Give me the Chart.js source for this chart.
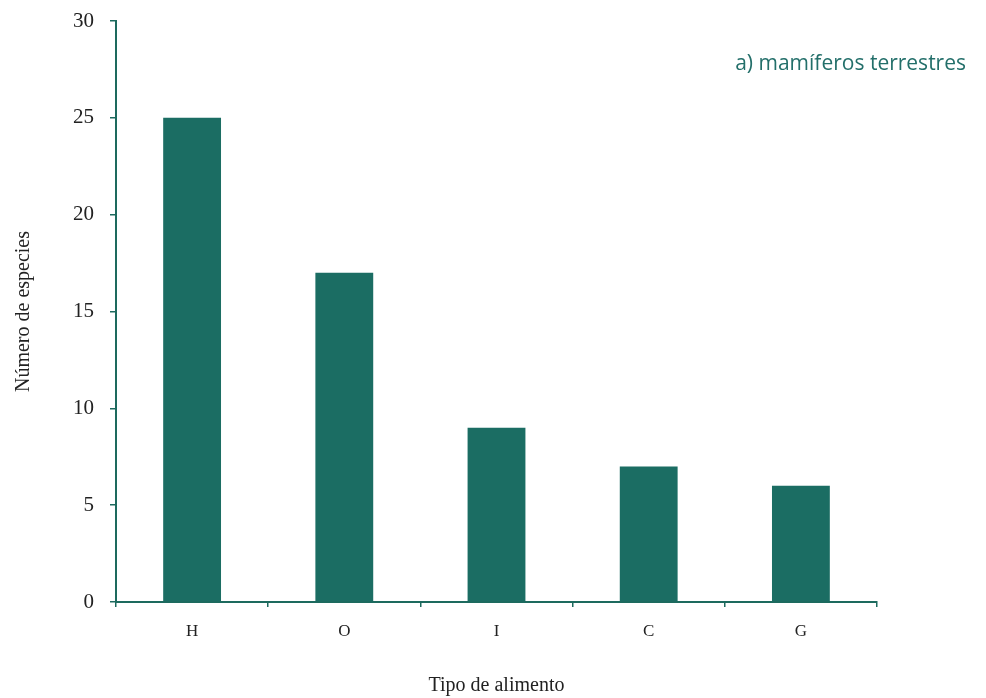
<!DOCTYPE html>
<html>
<head>
<meta charset="utf-8">
<script src="https://cdn.jsdelivr.net/npm/chart.js@4.4.1/dist/chart.umd.min.js"></script>
<style>
  html, body { margin: 0; padding: 0; background: #fff; }
  #wrap { width: 986px; height: 698px; position: relative; }
</style>
</head>
<body>
<div id="wrap"><canvas id="chart"></canvas></div>
<script>
// Bar chart: número de especies por tipo de alimento (mamíferos terrestres)
const categories = ['H', 'O', 'I', 'C', 'G'];
const especies = [25, 17, 9, 7, 6];
const yTicks = [0, 5, 10, 15, 20, 25, 30];

const GREEN = '#1b6d63';
const AXIS = '#1d6a5e';

// panel label in the top right corner
const panelLabel = {
  id: 'panelLabel',
  afterDraw(chart) {
    const c = chart.ctx;
    c.save();
    c.font = '21px "Open Sans", "Noto Sans", sans-serif';
    c.fillStyle = '#236f6a';
    c.textAlign = 'right';
    c.textBaseline = 'middle';
    c.fillText('a) mamíferos terrestres', 966, 64);
    c.restore();
  }
};

const ctx = document.getElementById('chart').getContext('2d');

new Chart(ctx, {
  type: 'bar',
  data: {
    labels: categories,
    datasets: [{
      data: especies,
      backgroundColor: GREEN,
      borderWidth: 0,
      categoryPercentage: 1,
      barPercentage: 0.38
    }]
  },
  options: {
    responsive: true,
    maintainAspectRatio: false,
    animation: false,
    layout: { padding: { left: 0, right: 109, top: 21, bottom: 0 } },
    plugins: {
      legend: { display: false },
      tooltip: { enabled: false }
    },
    scales: {
      x: {
        grid: { display: true, drawOnChartArea: false, drawTicks: true, tickLength: 5, color: AXIS, lineWidth: 1.5 },
        border: { display: true, color: AXIS, width: 2 },
        ticks: { color: '#222', font: { family: '"Liberation Serif", serif', size: 17 }, padding: 14 },
        title: {
          display: true, text: 'Tipo de alimento', color: '#222',
          font: { family: '"Liberation Serif", serif', size: 20 },
          padding: { top: 14, bottom: 0 }
        },
        afterFit(scale) { scale.height = 96; }
      },
      y: {
        min: 0, max: 30,
        afterBuildTicks(scale) { scale.ticks = yTicks.map(v => ({ value: v })); },
        grid: { display: true, drawOnChartArea: false, drawTicks: true, tickLength: 6, color: AXIS, lineWidth: 1.5 },
        border: { display: true, color: AXIS, width: 2 },
        ticks: { color: '#222', font: { family: '"Liberation Serif", serif', size: 21 }, padding: 16 },
        title: {
          display: true, text: 'Número de especies', color: '#222',
          font: { family: '"Liberation Serif", serif', size: 20 },
          padding: { top: 12, bottom: 10 }
        },
        afterFit(scale) {
          scale.width = 116;
          scale.paddingTop = 0;
        }
      }
    }
  },
  plugins: [panelLabel]
});
</script>
</body>
</html>
